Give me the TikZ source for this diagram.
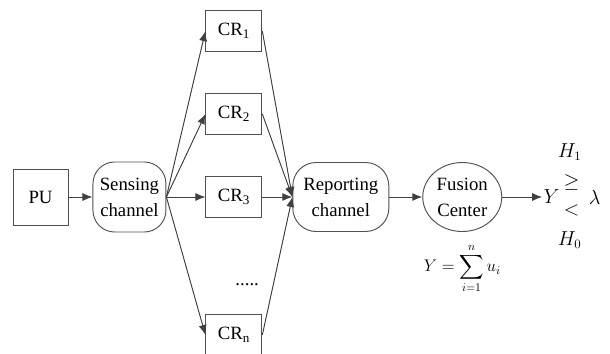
\documentclass[tikz,border=0pt]{standalone}
\usepackage{fontspec}
\setmainfont{Liberation Serif}
\usepackage{amsmath}
\usepackage{amssymb}
\usepackage{tikz}
\usetikzlibrary{shapes.geometric, arrows.meta, positioning}
\definecolor{line-gray}{RGB}{64,64,64}
\definecolor{edge-gray}{RGB}{80,80,80}

\begin{document}
\begin{tikzpicture}[
    font=\fontsize{16}{22}\selectfont,
    block/.style={rectangle, draw=edge-gray, line width=0.8pt, minimum width=1.65cm, minimum height=1.68cm, inner sep=0pt},
    cr/.style={rectangle, draw=edge-gray, line width=0.8pt, minimum width=1.68cm, minimum height=1.23cm, inner sep=0pt},
    channel/.style={rectangle, draw=edge-gray, line width=0.8pt, rounded corners=0.65cm, minimum height=2.1cm, align=center, inner sep=0pt},
    fusion/.style={ellipse, draw=edge-gray, line width=0.8pt, minimum width=2.37cm, minimum height=2.07cm, align=center, inner sep=0pt},
    arrow/.style={-{Latex[length=3mm,width=2.4mm]}, draw=line-gray, fill=line-gray, line width=0.8pt}
]
\useasboundingbox (0,0) rectangle (18.3,-10.59);

% source and sensing
\node[block] (pu) at (1.215,-5.91) {PU};
\node[channel, minimum width=2.19cm, right=0.72cm of pu] (sensing) {Sensing\\channel};

% cognitive radios
\node[cr, right=1.17cm of sensing] (cr3) {CR\textsubscript{3}};
\node[cr, above=1.23cm of cr3] (cr2) {CR\textsubscript{2}};
\node[cr, above=1.23cm of cr2] (cr1) {CR\textsubscript{1}};
\node[cr, below=2.88cm of cr3] (crn) {CR\textsubscript{n}};
\node[below=1.85cm of cr3, xshift=0.4cm] (dots) {.....};

% reporting and fusion
\node[channel, minimum width=2.88cm, rounded corners=0.7cm, minimum height=2.07cm, right=0.9cm of cr3] (report) {Reporting\\channel};
\node[fusion, right=0.99cm of report] (fc) {Fusion\\Center};
\node[font=\fontsize{14.5}{17}\selectfont, inner sep=0pt] (sum) at ([yshift=-2.15cm]fc.center) {$Y=\displaystyle\sum_{i=1}^{n}u_i$};

% decision
\node[right=1.2cm of fc, inner sep=1pt] (yout) {$Y$};
\node (ge) at ([xshift=0.6cm,yshift=0.45cm]yout.center) {$\geq$};
\node (lt) at ([xshift=0.6cm,yshift=-0.39cm]yout.center) {$<$};
\node (h1) at ([xshift=0.54cm,yshift=1.35cm]yout.center) {$H_1$};
\node (h0) at ([xshift=0.54cm,yshift=-1.29cm]yout.center) {$H_0$};
\node (lambda) at ([xshift=1.29cm]yout.center) {$\lambda$};

\draw[arrow] (pu) -- (sensing);
\foreach \c in {cr1,cr2,cr3,crn} {
  \draw[arrow] (sensing.east) -- (\c.west);
  \draw[arrow] (\c.east) -- (report.west);
}
\draw[arrow] (report) -- (fc);
\draw[arrow] (fc) -- (yout);

\end{tikzpicture}
\end{document}
